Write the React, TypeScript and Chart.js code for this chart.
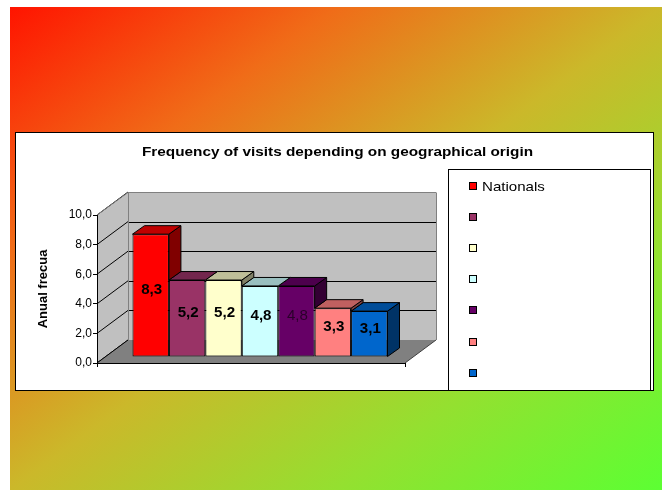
import { useEffect, useRef } from 'react';
import { Chart, registerables } from 'chart.js';

Chart.register(...registerables);

// ---- data ----
const categories = [''];
const seriesLabels = ['Nationals', '', '', '', '', '', ''];
const seriesValues = [8.3, 5.2, 5.2, 4.8, 4.8, 3.3, 3.1];
const seriesColors = ['#FF0000', '#993366', '#FFFFCC', '#CCFFFF', '#660066', '#FF8080', '#0066CC'];
const yMin = 0;
const yMax = 10;
const yStep = 2;
const chartTitle = 'Frequency of visits depending on geographical origin';
const yAxisTitle = 'Anual frecua';

// ---- look ----
const FONT = "'Liberation Sans', Arial, sans-serif";
const WALL_DX = 31; // depth of floor / walls
const WALL_DY = 23;
const BAR_FRONT_DX = 9; // bars sit a little behind the front plane
const BAR_FRONT_DY = 6;
const BAR_DX = 12; // depth of one bar
const BAR_DY = 8.5;

const fmt = (v: number) => v.toFixed(1).replace('.', ',');

function shade(hex: string, f: number) {
  const n = parseInt(hex.slice(1), 16);
  const r = Math.round(((n >> 16) & 255) * f);
  const g = Math.round(((n >> 8) & 255) * f);
  const b = Math.round((n & 255) * f);
  return `rgb(${r},${g},${b})`;
}

function poly(ctx: CanvasRenderingContext2D, pts: number[][], fill?: string, stroke?: string) {
  ctx.beginPath();
  pts.forEach(([x, y], i) => (i ? ctx.lineTo(x, y) : ctx.moveTo(x, y)));
  ctx.closePath();
  if (fill) {
    ctx.fillStyle = fill;
    ctx.fill();
  }
  if (stroke) {
    ctx.strokeStyle = stroke;
    ctx.lineWidth = 1;
    ctx.stroke();
  }
}

function line(ctx: CanvasRenderingContext2D, x0: number, y0: number, x1: number, y1: number, color: string) {
  ctx.beginPath();
  ctx.moveTo(x0, y0);
  ctx.lineTo(x1, y1);
  ctx.strokeStyle = color;
  ctx.lineWidth = 1;
  ctx.stroke();
}

function text(
  ctx: CanvasRenderingContext2D,
  s: string,
  x: number,
  y: number,
  font: string,
  color: string,
  align: CanvasTextAlign,
  baseline: CanvasTextBaseline,
  sx: number
) {
  ctx.save();
  ctx.translate(x, y);
  ctx.scale(sx, 1);
  ctx.font = font;
  ctx.fillStyle = color;
  ctx.textAlign = align;
  ctx.textBaseline = baseline;
  ctx.fillText(s, 0, 0);
  ctx.restore();
}

// background, panel, title, walls and floor (under the axes)
const backdrop = {
  id: 'backdrop',
  beforeDraw(chart: any) {
    const ctx: CanvasRenderingContext2D = chart.ctx;
    ctx.save();
    ctx.fillStyle = '#ffffff';
    ctx.fillRect(0, 0, chart.width, chart.height);

    // diagonal colour wash
    const bx = 10, by = 7, bw = 652, bh = 483;
    const diag = Math.hypot(bw, bh);
    const dx = bh / diag, dy = bw / diag;
    const half = (bw * bh) / diag;
    const cx = bx + bw / 2, cy = by + bh / 2;
    const grad = ctx.createLinearGradient(cx - dx * half, cy - dy * half, cx + dx * half, cy + dy * half);
    grad.addColorStop(0, '#ff1400');
    grad.addColorStop(0.25, '#f06c18');
    grad.addColorStop(0.5, '#cbb82a');
    grad.addColorStop(0.75, '#94e030');
    grad.addColorStop(1, '#5cff33');
    ctx.fillStyle = grad;
    ctx.fillRect(bx, by, bw, bh);

    // white chart panel
    ctx.fillStyle = '#ffffff';
    ctx.fillRect(15, 132, 639, 259);
    ctx.strokeStyle = '#000000';
    ctx.lineWidth = 1;
    ctx.strokeRect(15.5, 132.5, 638, 258);

    text(ctx, chartTitle, 337.5, 156, `bold 13px ${FONT}`, '#000', 'center', 'alphabetic', 1.18);

    // walls and floor
    const xs = chart.scales.x;
    const ys = chart.scales.y;
    const x0 = xs.left, x1 = xs.right;
    const yTop = ys.getPixelForValue(yMax);
    const yBase = ys.getPixelForValue(yMin);

    poly(ctx, [[x0, yTop], [x0 + WALL_DX, yTop - WALL_DY], [x0 + WALL_DX, yBase - WALL_DY], [x0, yBase]], '#c0c0c0');
    ctx.fillStyle = '#c0c0c0';
    ctx.fillRect(x0 + WALL_DX, yTop - WALL_DY, x1 - x0, yBase - yTop);

    ys.ticks.forEach((t: any) => {
      const py = ys.getPixelForValue(t.value);
      line(ctx, x0, py, x0 + WALL_DX, py - WALL_DY, '#000');
      if (t.value > yMin && t.value < yMax) {
        const gy = Math.round(py - WALL_DY) + 0.5;
        line(ctx, x0 + WALL_DX, gy, x1 + WALL_DX, gy, '#000');
      }
    });

    // wall edges
    const tY = Math.round(yTop - WALL_DY) + 0.5;
    line(ctx, x0, yTop, x0 + WALL_DX, tY, '#808080');
    line(ctx, x0 + WALL_DX, tY, x1 + WALL_DX, tY, '#808080');
    line(ctx, Math.round(x0 + WALL_DX) + 0.5, tY, Math.round(x0 + WALL_DX) + 0.5, yBase - WALL_DY, '#808080');
    line(ctx, Math.round(x1 + WALL_DX) + 0.5, tY, Math.round(x1 + WALL_DX) + 0.5, yBase - WALL_DY, '#808080');

    // floor
    poly(ctx, [[x0, yBase], [x1, yBase], [x1 + WALL_DX, yBase - WALL_DY], [x0 + WALL_DX, yBase - WALL_DY]], '#808080');
    line(ctx, x1, yBase, x1 + WALL_DX, yBase - WALL_DY, '#404040');
    line(ctx, x0, yBase, x0 + WALL_DX, yBase - WALL_DY, '#000');
    ctx.restore();
  },
};

// bars are drawn a little behind the front plane, with top and side faces
const bars3d = {
  id: 'bars3d',
  beforeDatasetsDraw(chart: any) {
    chart.ctx.save();
    chart.ctx.translate(BAR_FRONT_DX, -BAR_FRONT_DY);
  },
  afterDatasetDraw(chart: any, args: any) {
    const ctx: CanvasRenderingContext2D = chart.ctx;
    const i = args.index;
    const bar = args.meta.data[0];
    if (!bar) return;
    const { x, y, base, width } = bar.getProps(['x', 'y', 'base', 'width'], true);
    const L = x - width / 2;
    const R = x + width / 2;
    let sideBottom = base;
    if (i < seriesValues.length - 1) {
      const next = chart.getDatasetMeta(i + 1).data[0];
      if (next) sideBottom = Math.min(base, Math.max(y, next.y));
    }
    const color = seriesColors[i];
    if (sideBottom > y) {
      poly(
        ctx,
        [[R, y], [R + BAR_DX, y - BAR_DY], [R + BAR_DX, sideBottom - BAR_DY], [R, sideBottom]],
        shade(color, 0.5),
        '#000'
      );
    }
    poly(ctx, [[L, y], [R, y], [R + BAR_DX, y - BAR_DY], [L + BAR_DX, y - BAR_DY]], shade(color, 0.75), '#000');
  },
  afterDatasetsDraw(chart: any) {
    const ctx: CanvasRenderingContext2D = chart.ctx;
    ctx.restore();
    // value labels on the bar fronts
    chart.data.datasets.forEach((ds: any, i: number) => {
      const bar = chart.getDatasetMeta(i).data[0];
      if (!bar) return;
      const { x, y, base } = bar.getProps(['x', 'y', 'base'], true);
      const dark = i === 4;
      text(
        ctx,
        fmt(ds.data[0]),
        x + BAR_FRONT_DX + 1,
        (y + base) / 2 - BAR_FRONT_DY - 5,
        `${dark ? '' : 'bold '}14px ${FONT}`,
        dark ? '#2a002a' : '#000',
        'center',
        'middle',
        1.08
      );
    });
  },
};

// boxed legend on the right
const boxLegend = {
  id: 'boxLegend',
  afterDraw(chart: any) {
    const ctx: CanvasRenderingContext2D = chart.ctx;
    ctx.save();
    ctx.strokeStyle = '#000';
    ctx.lineWidth = 1;
    ctx.strokeRect(448.5, 169.5, 202, 221);
    chart.data.datasets.forEach((ds: any, i: number) => {
      const cy = 185.5 + i * 31.2;
      ctx.fillStyle = seriesColors[i];
      ctx.fillRect(469, Math.round(cy - 4), 8, 8);
      ctx.strokeStyle = '#000';
      ctx.strokeRect(469.5, Math.round(cy - 4) + 0.5, 7, 7);
      if (ds.label) text(ctx, ds.label, 482, cy + 5, `13px ${FONT}`, '#000', 'left', 'alphabetic', 1.16);
    });
    ctx.restore();
  },
};

export default function App() {
  const ref = useRef<HTMLCanvasElement>(null);

  useEffect(() => {
    const canvas = ref.current;
    if (!canvas) return;
    const chart = new Chart(canvas, {
      type: 'bar',
      data: {
        labels: categories,
        datasets: seriesValues.map((v, i) => ({
          label: seriesLabels[i],
          data: [v],
          backgroundColor: seriesColors[i],
          borderColor: '#000000',
          borderWidth: 1,
          borderSkipped: false,
          clip: false as any,
          categoryPercentage: 0.828,
          barPercentage: 1,
        })),
      },
      options: {
        responsive: false,
        animation: false,
        devicePixelRatio: 1,
        events: [],
        layout: { padding: { left: 32, top: 215, right: 262, bottom: 123 } },
        plugins: {
          legend: { display: false },
          title: { display: false },
          tooltip: { enabled: false },
        },
        scales: {
          x: {
            type: 'category',
            offset: true,
            grid: { display: true, drawOnChartArea: false, drawTicks: true, tickLength: 4, color: '#000', offset: true },
            border: { display: true, color: '#000', width: 1 },
            ticks: { display: false },
            afterFit: (s: any) => {
              s.height = 4;
            },
          },
          y: {
            min: yMin,
            max: yMax,
            ticks: {
              stepSize: yStep,
              padding: 1,
              color: '#000',
              font: { family: FONT, size: 12 },
              callback: (v: any) => fmt(Number(v)),
            },
            grid: { drawOnChartArea: false, drawTicks: true, tickLength: 4, color: '#000' },
            border: { display: true, color: '#000', width: 1 },
            title: {
              display: true,
              text: yAxisTitle,
              color: '#000',
              font: { family: FONT, size: 13, weight: 'bold' },
              padding: { top: 4, bottom: 4 },
            },
            afterFit: (s: any) => {
              s.width = 65;
            },
          },
        },
      },
      plugins: [backdrop, bars3d, boxLegend],
    });
    return () => chart.destroy();
  }, []);

  return (
    <div style={{ position: 'fixed', left: 0, top: 0, width: 667, height: 490, background: '#fff' }}>
      <canvas ref={ref} width={667} height={490} style={{ display: 'block', width: 667, height: 490 }} />
    </div>
  );
}
